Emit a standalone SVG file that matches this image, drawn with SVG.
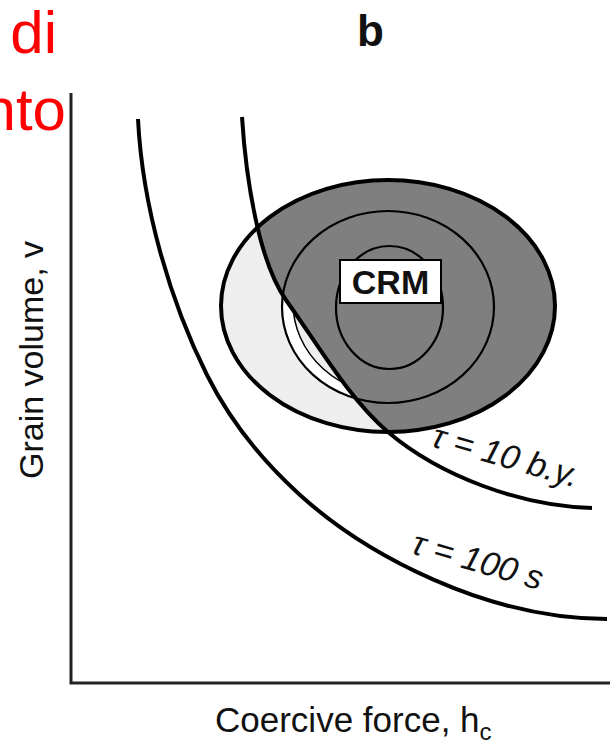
<svg xmlns="http://www.w3.org/2000/svg" width="610" height="745" viewBox="0 0 610 745">
<style>
.thick{fill:none;stroke:#000;stroke-width:4;stroke-linecap:butt}
.thin{fill:none;stroke:#000;stroke-width:2.2}
.lbl{font-family:"Liberation Sans",Arial,sans-serif;fill:#111}
.tau{font-family:"Liberation Sans",Arial,sans-serif;font-style:italic;font-size:34px;fill:#111}
.red{font-family:"Liberation Sans",Arial,sans-serif;font-size:60px;fill:#ff0000}
</style>
<defs>
<clipPath id="right">
<path d="M242,90 L242,117 C246,180 259,262 286,300 C318,345 350,400 388,432 C440,476 520,506 592,508 L610,508 L610,90 Z"/>
</clipPath>
<clipPath id="left">
<path d="M0,90 L242,90 L242,117 C246,180 259,262 286,300 C318,345 350,400 388,432 C440,476 520,506 592,508 L610,508 L610,745 L0,745 Z"/>
</clipPath>
</defs>
<rect width="610" height="745" fill="#fff"/>

<g id="red-text">
<text class="red" x="57" y="53" text-anchor="end">di</text>
<text class="red" x="66" y="130" text-anchor="end">nto</text>
</g>

<g id="panel-label">
<text class="lbl" x="357" y="46" font-size="44" font-weight="bold">b</text>
</g>

<g id="axes">
<path d="M71,93 L71,683 L610,683" fill="none" stroke="#222" stroke-width="3"/>
<text class="lbl" font-size="34" text-anchor="middle" transform="translate(43,360) rotate(-90)">Grain volume, v</text>
<text class="lbl" font-size="35" x="215" y="732">Coercive force, h<tspan font-size="24" dy="8">c</tspan></text>
</g>

<g id="outer-region">
<ellipse cx="388" cy="306" rx="167" ry="126" fill="#eeeeee"/>
<ellipse cx="388" cy="306" rx="167" ry="126" fill="#7f7f7f" clip-path="url(#right)"/>
<g clip-path="url(#left)">
<ellipse cx="388" cy="307" rx="106" ry="96" fill="#ffffff"/>
<ellipse cx="396" cy="303" rx="103" ry="93" fill="#eeeeee" stroke="#000" stroke-width="1.5"/>
</g>
<ellipse cx="388" cy="306" rx="167" ry="126" class="thick"/>
</g>

<g id="middle-region">
<ellipse cx="388" cy="307" rx="106" ry="96" class="thin"/>
</g>

<g id="inner-region">
<ellipse cx="389.5" cy="307.5" rx="53.5" ry="61.5" class="thin"/>
</g>

<g id="crm">
<rect x="340" y="260" width="101" height="43" fill="#fff" stroke="#000" stroke-width="2"/>
<text class="lbl" x="390.5" y="294" font-size="34" font-weight="bold" text-anchor="middle">CRM</text>
</g>

<g id="curves">
<path id="tau10" class="thick" d="M242,117 C246,180 259,262 286,300 C318,345 350,400 388,432 C440,476 520,506 592,508"/>
<path id="tau100" class="thick" d="M138,119 C142.5,209 171.2,303.5 207,375 C229.4,419.7 263,461.5 300,495 C366.6,555.3 487,619 607,619"/>
<text class="tau" transform="translate(430,446) rotate(16)">τ = 10 b.y.</text>
<text class="tau" transform="translate(410,553) rotate(16)">τ = 100 s</text>
</g>
</svg>
